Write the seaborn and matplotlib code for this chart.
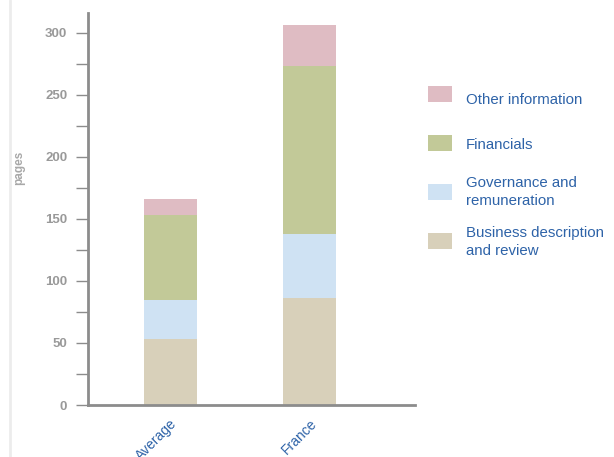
import numpy as np
import pandas as pd
import matplotlib
matplotlib.use("Agg")
import matplotlib.pyplot as plt
from matplotlib.patches import Rectangle
from matplotlib.lines import Line2D
from matplotlib.ticker import MultipleLocator
import seaborn as sns

# Page counts per report section
groups = ["Average", "France"]
business = [53, 86]
governance = [32, 52]
financials = [68, 135]
other = [13, 33]

sections = ["Business description\nand review", "Governance and\nremuneration",
            "Financials", "Other information"]
section_colors = ["#d8d0ba", "#cfe2f3", "#c2c998", "#dfbcc3"]

sns.set_theme(style="white")
plt.rcParams["font.family"] = ["Liberation Sans", "DejaVu Sans"]

df = pd.DataFrame({"group": groups, "business": business, "governance": governance,
                   "financials": financials, "other": other})
layers = ["business", "governance", "financials", "other"]
cum = df[layers].cumsum(axis=1)

fig = plt.figure(figsize=(6.14, 4.57), dpi=100)
ax = fig.add_axes([88 / 614, 1 - 405 / 457, 327 / 614, 392 / 457])

# stacked bars: draw cumulative totals from the top layer down
for layer, color in reversed(list(zip(layers, section_colors))):
    sns.barplot(x=df["group"], y=cum[layer], color=color, width=0.38,
                saturation=1, ax=ax, linewidth=0)

ax.set_xlim(-0.588, 1.756)
ax.set_ylim(0, 316)

axis_gray = "#8c8c8c"
for side in ["top", "right"]:
    ax.spines[side].set_visible(False)
for side in ["left", "bottom"]:
    ax.spines[side].set_color(axis_gray)
    ax.spines[side].set_linewidth(2)

ax.yaxis.set_major_locator(MultipleLocator(50))
ax.yaxis.set_minor_locator(MultipleLocator(25))
ax.tick_params(axis="y", which="both", direction="out", length=9, width=1,
               color=axis_gray, left=True, pad=6)
ax.tick_params(axis="y", which="major", labelsize=9.5, labelcolor="#999999")
for lbl in ax.get_yticklabels():
    lbl.set_fontweight("bold")

ax.tick_params(axis="x", length=0, pad=8)
ax.set_xticks([0, 1])
ax.set_xticklabels(groups, rotation=45, ha="right", va="top",
                   rotation_mode="anchor", color="#2e63a8", fontsize=10)

ax.set_xlabel("")
ax.set_ylabel("pages", color="#a8a8a8", fontsize=8.5, fontweight="bold")
ax.yaxis.set_label_coords(-0.193, 0.605)

# page border on the left
fig.add_artist(Line2D([10 / 614, 10 / 614], [0, 1], transform=fig.transFigure,
                      color="#ececec", linewidth=2))

# legend, top layer first
legend_rows = [("Other information", section_colors[3], 94, 100),
               ("Financials", section_colors[2], 143, 145),
               ("Governance and\nremuneration", section_colors[1], 192, 192),
               ("Business description\nand review", section_colors[0], 241, 242)]
for label, color, patch_y, text_y in legend_rows:
    fig.add_artist(Rectangle((428 / 614, 1 - (patch_y + 8) / 457), 24 / 614, 16 / 457,
                             transform=fig.transFigure, facecolor=color, edgecolor="none"))
    fig.text(466 / 614, 1 - text_y / 457, label, color="#2e63a8", fontsize=10.8,
             va="center", ha="left", linespacing=1.35)

fig.savefig("out.png", dpi=100)
